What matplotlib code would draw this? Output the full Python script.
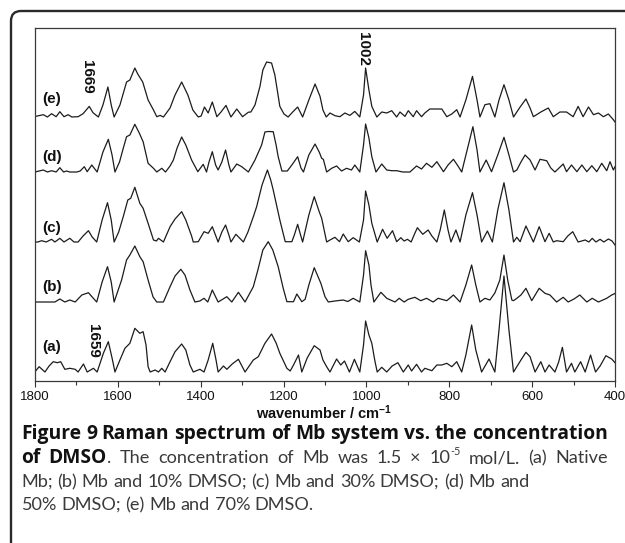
import matplotlib
matplotlib.use("Agg")
import matplotlib.pyplot as plt
from matplotlib.patches import FancyBboxPatch
from matplotlib.ticker import MultipleLocator
from matplotlib.transforms import IdentityTransform

plt.rcParams["font.family"] = ["Liberation Sans", "DejaVu Sans"]
plt.rcParams["mathtext.default"] = "regular"

# Raman spectra: (wavenumber / cm-1, relative intensity above each trace's baseline)
spectrum_a = [
    (1800, 0.3), (1790, 5.3), (1776, 0), (1766, 6), (1756, 10.3), (1746, 9.3), (1738, 10.3), (1728, 2.7),
    (1716, 3.7), (1703, 2.7), (1696, 0), (1683, 8), (1674, 0), (1659, 3.7), (1650, 0), (1635, 18.7),
    (1623, 30.3), (1614, 14), (1607, 0), (1595, 12), (1583, 23.7), (1571, 28.7), (1559, 43.7), (1547, 38.7),
    (1539, 40.3), (1532, 27), (1527, 5.3), (1522, 0), (1510, 2), (1502, 0), (1494, 3.7), (1486, 0),
    (1474, 10.3), (1462, 20.3), (1446, 28), (1436, 22), (1426, 7), (1418, 0), (1402, 2.7), (1392, 0),
    (1382, 12), (1371, 28.7), (1363, 12), (1358, 0), (1345, 6), (1337, 2.7), (1324, 8), (1309, 12.7),
    (1293, 0), (1273, 12), (1261, 15.3), (1245, 28.7), (1229, 38), (1218, 29), (1209, 18.7), (1192, 3.7),
    (1184, 1), (1176, 7), (1164, 17), (1156, 0), (1143, 14), (1126, 26.3), (1112, 22), (1105, 12),
    (1096, 5.3), (1088, 0), (1072, 13), (1062, 7), (1053, 11), (1041, 0), (1029, 12.7), (1016, 0),
    (1007, 27), (1002, 51), (994, 37), (987, 28.7), (980, 12), (974, 0), (963, 4.7), (951, 0),
    (938, 6), (924, 9.3), (911, 0), (899, 7), (891, 1), (879, 7.7), (867, 0), (859, 3.7),
    (842, 1.3), (830, 7), (818, 7), (806, 8.7), (794, 5.3), (782, 10.3), (770, 0), (760, 17),
    (746, 47), (736, 22), (722, 0), (704, 13), (690, 0), (680, 42), (668, 96), (656, 42),
    (645, 0), (627, 12), (615, 19.7), (605, 15.3), (593, 0), (579, 10.3), (569, 0), (559, 7),
    (545, 0), (536, 10), (527, 24.7), (517, 0), (505, 8.7), (497, 0), (483, 10.3), (472, 0),
    (459, 17), (447, 0), (436, 6), (422, 16.3), (408, 13), (400, 9.3),
]

spectrum_b = [
    (1800, 0), (1752, 0), (1740, 3), (1728, 0), (1716, 2), (1703, 0), (1687, 7), (1671, 9.3),
    (1662, 5), (1651, 0), (1638, 20), (1625, 35.3), (1616, 20), (1609, 0), (1591, 22), (1579, 42),
    (1571, 47), (1559, 56), (1547, 45.3), (1539, 40.3), (1527, 22), (1515, 5), (1506, 0), (1490, 0),
    (1474, 15.3), (1462, 26), (1448, 32.7), (1438, 27), (1426, 12), (1414, 0), (1402, 1), (1392, 3.7),
    (1383, 0), (1372, 12), (1358, 0), (1346, 3), (1337, 5.3), (1325, 0), (1309, 9.7), (1293, 0),
    (1273, 15.3), (1262, 32), (1250, 52), (1237, 60.3), (1226, 52), (1213, 35.3), (1201, 14), (1192, 0.3),
    (1176, 0.3), (1168, 8), (1156, 0.3), (1148, 2.7), (1139, 17), (1126, 34.3), (1110, 18.7), (1100, 5.3),
    (1092, 0), (1076, 1), (1056, 2), (1045, 0.5), (1032, 3.7), (1016, 0), (1007, 27), (1002, 51.3),
    (994, 37), (989, 17), (982, 0), (965, 9.7), (951, 3.7), (931, 0), (921, 3.7), (909, 0),
    (899, 2.7), (883, 4.7), (869, 1.3), (855, 3.7), (839, 0), (827, 3.7), (806, 1.3), (790, 7),
    (774, 0), (760, 17), (746, 37), (736, 17), (726, 0), (714, 3.7), (702, 2), (690, 9),
    (678, 22), (668, 47), (659, 22), (649, 2), (645, 1.3), (637, 3.7), (627, 7), (615, 13.7),
    (601, 1.3), (583, 13.7), (569, 8.7), (557, 7), (541, 0), (525, 4.7), (513, 0), (499, 3),
    (485, 7), (468, 0), (455, 3.7), (440, 0), (420, 3.7), (408, 7), (400, 8.5),
]

spectrum_c = [
    (1800, 0), (1793, 0), (1784, 1.3), (1773, 0), (1760, 2.7), (1752, 0), (1740, 3.7), (1730, 0),
    (1716, 3.7), (1706, 0), (1696, 0), (1684, 6), (1671, 11.3), (1662, 5), (1651, 0), (1638, 22),
    (1625, 39.3), (1616, 22), (1609, 0), (1598, 10), (1587, 25.3), (1576, 42), (1569, 43.7), (1559, 54.7),
    (1547, 38.7), (1539, 33.7), (1527, 18.7), (1514, 2), (1507, 1), (1502, 3.7), (1490, 0), (1474, 15.3),
    (1462, 23), (1446, 30.3), (1436, 22), (1422, 6), (1418, 0), (1406, 0.3), (1392, 10.3), (1382, 8.7),
    (1372, 15.3), (1358, 0), (1349, 10), (1340, 17), (1332, 7), (1327, 0), (1315, 7.7), (1297, 0),
    (1286, 10), (1273, 25.3), (1265, 35.3), (1252, 57), (1239, 72), (1231, 62), (1225, 52), (1209, 22),
    (1196, 0.3), (1180, 0.3), (1174, 7), (1166, 17.7), (1159, 7), (1154, 0), (1139, 27), (1126, 45.3),
    (1114, 30.3), (1108, 23.7), (1102, 12), (1096, 0), (1088, 2), (1076, 4.7), (1065, 0.3), (1056, 8),
    (1044, 0.3), (1032, 4.3), (1017, 0), (1007, 22), (1002, 51), (994, 37), (987, 18.7), (974, 0),
    (961, 12.7), (950, 3.7), (937, 11.3), (927, 0.3), (917, 4.3), (909, 1), (901, 2.7), (892, 0),
    (885, 7), (877, 14.3), (864, 7.7), (851, 12), (842, 6), (830, 0), (822, 12), (812, 32),
    (803, 12), (796, 0), (784, 12), (774, 0), (760, 27), (744, 49.3), (733, 27), (722, 0),
    (708, 11), (696, 0), (683, 32), (668, 59.3), (656, 32), (645, 0), (637, 4.7), (629, 0.3),
    (615, 16), (605, 7), (597, 0), (583, 15.3), (569, 0.3), (559, 8.7), (549, 0), (541, 1.3),
    (525, 0.3), (514, 6), (502, 10.3), (489, 0), (472, 2), (463, 0), (455, 3.7), (446, 0),
    (436, 2.7), (427, 0), (416, 3), (407, 1), (400, -3),
]

spectrum_d = [
    (1800, 0), (1780, 2), (1770, 0), (1760, 1.3), (1749, 0), (1740, 4.3), (1731, 0), (1724, 1),
    (1716, 0), (1699, 0), (1691, 1), (1681, 5.3), (1674, 0.3), (1663, 7), (1650, 0), (1636, 20),
    (1623, 32.7), (1614, 17), (1607, 0), (1596, 10), (1587, 23.7), (1579, 35.3), (1571, 37), (1559, 47.7),
    (1548, 38.7), (1539, 30.3), (1527, 8.7), (1514, 3.7), (1506, 0), (1494, 3.7), (1485, 0), (1474, 6),
    (1466, 12), (1457, 24), (1446, 35), (1436, 27), (1422, 12), (1407, 0.3), (1394, 7.7), (1386, 0),
    (1380, 10), (1372, 20.3), (1364, 7), (1358, 2), (1349, 10), (1340, 22), (1332, 7), (1327, 0),
    (1313, 8), (1301, 5.3), (1285, 0), (1269, 12), (1253, 27), (1245, 40), (1237, 40.5), (1225, 40.3),
    (1218, 27), (1213, 15.3), (1204, 1), (1191, 1), (1180, 7), (1166, 15.3), (1158, 4), (1152, 0),
    (1139, 17), (1124, 28), (1114, 20), (1108, 13.7), (1104, 12.7), (1096, 0), (1084, 3.7), (1072, 6),
    (1060, 1), (1048, 3.7), (1036, 2), (1028, 7), (1016, 0), (1007, 27), (1002, 48), (994, 34),
    (987, 15.3), (977, 0), (963, 8), (951, 2), (939, 1.3), (927, 1.3), (912, 0), (895, 0),
    (879, 6), (867, 3), (855, 8.7), (842, 4.7), (830, 10.3), (814, 0.3), (803, 7), (790, 12.7),
    (779, 6), (770, 0), (757, 22), (743, 45.3), (733, 22), (726, 0), (711, 12), (698, 0.3),
    (683, 17), (668, 34.7), (656, 17), (645, 0), (637, 2), (627, 10), (617, 17), (605, 12),
    (593, 2), (581, 12.7), (565, 11.3), (555, 4), (545, 0), (525, 8), (517, 0.3), (505, 7),
    (492, 0.3), (480, 7), (468, 0.3), (456, 6.3), (444, 0.3), (432, 8.7), (420, 1.3), (412, 10.3),
    (404, 2), (400, 5.3),
]

spectrum_e = [
    (1800, 0.5), (1780, 2.3), (1770, 0), (1760, 3.3), (1749, 0.3), (1740, 5.3), (1730, 0.3), (1720, 2.3),
    (1711, 0), (1696, 0.3), (1684, 3.3), (1669, 10.6), (1660, 4.3), (1647, 0), (1636, 12), (1624, 30),
    (1616, 12), (1609, 0), (1595, 12), (1579, 35), (1571, 37), (1559, 49), (1552, 43), (1540, 35),
    (1527, 17), (1514, 7), (1506, 0.3), (1498, 1.6), (1490, 0), (1474, 9), (1462, 22), (1446, 35),
    (1431, 22), (1419, 7), (1406, 0), (1399, 1), (1391, 10), (1382, 4), (1372, 15), (1361, 0.3),
    (1351, 5), (1339, 11.6), (1327, 0), (1313, 8), (1299, 0.3), (1285, 4.8), (1279, 5), (1269, 12),
    (1257, 30.6), (1250, 47), (1241, 55), (1229, 54), (1221, 42), (1209, 10.6), (1199, 3), (1189, 0),
    (1178, 5), (1166, 10), (1154, 0), (1139, 17), (1124, 33), (1112, 20.6), (1105, 7), (1097, 0),
    (1088, 4), (1076, 1.3), (1064, 0.3), (1052, 4), (1040, 1.6), (1028, 5.6), (1016, 0), (1007, 22),
    (1002, 49), (994, 27), (987, 10.6), (975, 0), (963, 5), (951, 4), (939, 6.3), (927, 0),
    (919, 5), (907, 0.6), (899, 6.3), (887, 0.3), (879, 6.3), (867, 0.3), (859, 4), (847, 8),
    (818, 8), (806, 0.3), (794, 3), (782, 7.3), (774, 0), (760, 17), (744, 40.6), (733, 17),
    (726, 0), (714, 12.3), (702, 13.3), (690, 0), (680, 17), (668, 32.3), (656, 17), (645, 0),
    (629, 10), (615, 18), (605, 9), (597, 0.3), (579, 5), (561, 9), (549, 0.3), (533, 5),
    (517, 5), (501, 0.3), (489, 10.6), (477, 0.3), (464, 10), (452, 2.3), (440, 4), (428, 0.3),
    (416, 3), (404, -2.7), (400, -5),
]

trace_labels = ["(a)", "(b)", "(c)", "(d)", "(e)"]
trace_offsets = [0, 70, 130, 200, 255]
x_ticks = [1800, 1600, 1400, 1200, 1000, 800, 600, 400]

W, H = 625, 543
fig = plt.figure(figsize=(W / 100, H / 100), dpi=100)

# rounded outer frame of the figure panel
frame = FancyBboxPatch((11, -40), 700, H - 11 + 40,
                       boxstyle="round,pad=0,rounding_size=10",
                       transform=IdentityTransform(), fill=False,
                       lw=1.7, ec="#2a2a2a")
fig.add_artist(frame)

ax = fig.add_axes([35 / W, 1 - 381 / H, 580 / W, 353 / H])
spectra = [spectrum_a, spectrum_b, spectrum_c, spectrum_d, spectrum_e]
for spec, off in zip(spectra, trace_offsets):
    wn = [p[0] for p in spec]
    inten = [p[1] + off for p in spec]
    ax.plot(wn, inten, color="#1c1c1c", lw=0.9, solid_joinstyle="round")

ax.set_xlim(1800, 400)
ax.set_ylim(-9, 344)
ax.set_yticks([])
ax.set_xticks(x_ticks)
ax.set_xticklabels([str(t) for t in x_ticks])
ax.xaxis.set_minor_locator(MultipleLocator(100))
ax.tick_params(axis="x", which="major", direction="out", length=4, width=0.8,
               labelsize=9.5, pad=3.5, color="#333333", labelcolor="#111111")
ax.tick_params(axis="x", which="minor", direction="out", length=3, width=0.8,
               color="#333333")
for s in ax.spines.values():
    s.set_linewidth(0.9)
    s.set_color("#3a3a3a")

label_y = [25, 85, 144, 215, 273]
for lab, y in zip(trace_labels, label_y):
    ax.text(1760, y, lab, ha="center", va="center", fontsize=11, fontweight="bold", color="#111111")

ax.text(1674, 295, "1669", rotation=-90, ha="center", va="center", fontsize=11, fontweight="bold", color="#111111")
ax.text(1009, 323, "1002", rotation=-90, ha="center", va="center", fontsize=11, fontweight="bold", color="#111111")
ax.text(1661, 31, "1659", rotation=-90, ha="center", va="center", fontsize=11, fontweight="bold", color="#111111")

fig.text(324 / W, 1 - 413 / H, "wavenumber / cm$^{-1}$", ha="center", va="center",
         fontsize=10.5, fontweight="bold", color="#111111")

# caption below the plot
caption_lines = [
    ([("Figure 9 Raman spectrum of Mb system vs. the concentration", "bold")], True),
    ([("of DMSO", "bold"), (". The concentration of Mb was 1.5 \u00d7 10", "regular"),
      ("-5", "sup"), (" mol/L. (a) Native", "regular")], True),
    ([("Mb; (b) Mb and 10% DMSO; (c) Mb and 30% DMSO; (d) Mb and", "regular")], False),
    ([("50% DMSO; (e) Mb and 70% DMSO.", "regular")], False),
]
cap_left, cap_right = 21, 608
cap_line3_right = 527
cap_baselines = [439, 463, 487, 510]
bold_font = ["Open Sans", "DejaVu Sans"]
reg_font = ["Lato", "DejaVu Sans"]

renderer = fig.canvas.get_renderer()
sizes = {"bold": 12.0, "regular": 12.0}


def style_kw(style):
    if style == "bold":
        return dict(family=bold_font, fontsize=sizes["bold"], fontweight="bold", color="#111111")
    if style == "sup":
        return dict(family=reg_font, fontsize=sizes["regular"] * 0.6, fontweight="normal", color="#3a3a3a")
    return dict(family=reg_font, fontsize=sizes["regular"], fontweight="normal", color="#3a3a3a")


def piece_width(text, style):
    t = fig.text(0, 0, text, **style_kw(style))
    w = t.get_window_extent(renderer).width
    t.remove()
    return w


def split_words(segments):
    words, cur = [], []
    for text, style in segments:
        parts = text.split(" ")
        for i, part in enumerate(parts):
            if i > 0 and cur:
                words.append(cur)
                cur = []
            if part:
                cur.append((part, style))
    if cur:
        words.append(cur)
    return words


def measure(words, space_style):
    ws = [sum(piece_width(p, s) for p, s in w) for w in words]
    space = piece_width("a a", space_style) - piece_width("aa", space_style)
    return ws, space


def natural_width(words, space_style):
    ws, space = measure(words, space_style)
    return sum(ws) + space * (len(ws) - 1)


# bold size fills the first line, regular size matches the third line
w_bold = natural_width(split_words(caption_lines[0][0]), "bold")
sizes["bold"] *= (cap_right - cap_left) / w_bold
w_reg = natural_width(split_words(caption_lines[2][0]), "regular")
sizes["regular"] *= (cap_line3_right - cap_left) / w_reg

for (segs, justify), base in zip(caption_lines, cap_baselines):
    words = split_words(segs)
    space_style = "bold" if all(s == "bold" for _, s in segs) else "regular"
    ws, space = measure(words, space_style)
    gap = space
    if justify and len(words) > 1:
        gap = (cap_right - cap_left - sum(ws)) / (len(words) - 1)
    x = cap_left
    for w in words:
        for p, s in w:
            yb = base - (0.42 * sizes["regular"] * 100 / 72 if s == "sup" else 0)
            fig.text(x / W, 1 - yb / H, p, va="baseline", ha="left", **style_kw(s))
            x += piece_width(p, s)
        x += gap

fig.savefig("out.png", dpi=100)
